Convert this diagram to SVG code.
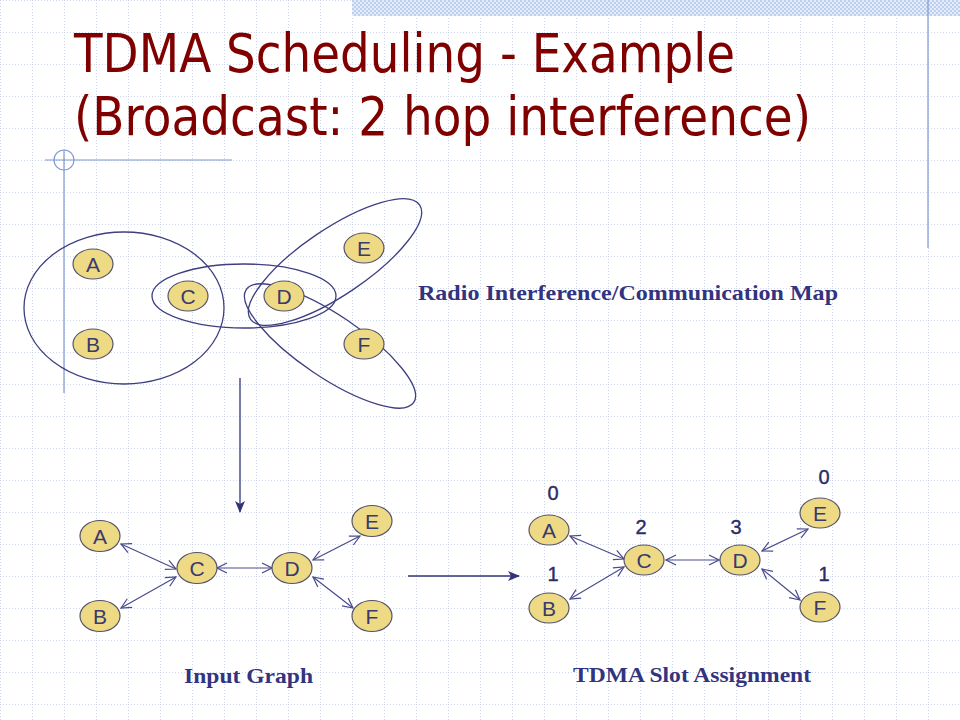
<svg xmlns="http://www.w3.org/2000/svg" width="960" height="720" viewBox="0 0 960 720">
<defs>
<pattern id="grid" x="0" y="0" width="32" height="32" patternUnits="userSpaceOnUse">
<line x1="0.5" y1="0" x2="0.5" y2="32" stroke="#cdd8ee" stroke-width="1" stroke-dasharray="1,2"/>
<line x1="0" y1="0.5" x2="32" y2="0.5" stroke="#cdd8ee" stroke-width="1" stroke-dasharray="1,2"/>
</pattern>
<pattern id="check" x="0" y="0" width="4" height="4" patternUnits="userSpaceOnUse">
<rect width="4" height="4" fill="#e4ecf8"/>
<rect width="2" height="2" fill="#bccfee"/>
<rect x="2" y="2" width="2" height="2" fill="#bccfee"/>
</pattern>
<marker id="open" viewBox="0 0 12 12" refX="11" refY="6" markerWidth="12" markerHeight="12" markerUnits="userSpaceOnUse" orient="auto-start-reverse">
<path d="M1,1 L11,6 L1,11" fill="none" stroke="#4a4a8c" stroke-width="1.2"/>
</marker>
<marker id="solid" viewBox="0 0 12 12" refX="11" refY="6" markerWidth="12" markerHeight="12" markerUnits="userSpaceOnUse" orient="auto">
<path d="M0,1 L12,6 L0,11 L3,6 Z" fill="#33337a"/>
</marker>
<style>
.node ellipse{fill:#eed985;stroke:#55556a;stroke-width:1.2}
.node text{font-family:"Liberation Sans",Arial,sans-serif;font-size:21px;fill:#3a3a6c;text-anchor:middle}
.ring{fill:none;stroke:#3f3f80;stroke-width:1.3}
.edge{stroke:#4a4a8c;stroke-width:1.2;fill:none;marker-start:url(#open);marker-end:url(#open)}
.num{font-family:"Liberation Sans",Arial,sans-serif;font-size:20px;fill:#2d2d66;stroke:#2d2d66;stroke-width:0.4;text-anchor:middle}
.cap{font-family:"Liberation Serif","Times New Roman",serif;font-weight:bold;font-size:21px;fill:#333380}
.deco{stroke:#7f96d2;stroke-width:1.2;fill:none}
</style>
</defs>
<rect width="960" height="720" fill="#ffffff"/>
<rect width="960" height="720" fill="url(#grid)"/>
<rect x="352" y="0" width="608" height="16" fill="url(#check)"/>
<g id="decoration">
<line class="deco" x1="928" y1="0" x2="928" y2="248"/>
<line class="deco" x1="45" y1="160" x2="232" y2="160"/>
<line class="deco" x1="64" y1="150" x2="64" y2="393"/>
<circle class="deco" cx="64" cy="160" r="10"/>
</g>
<g id="title" font-family="'DejaVu Sans',Tahoma,Verdana,sans-serif" font-size="53" fill="#800000">
<text x="74" y="72" textLength="661" lengthAdjust="spacingAndGlyphs">TDMA Scheduling - Example</text>
<text x="74" y="135" textLength="737" lengthAdjust="spacingAndGlyphs">(Broadcast: 2 hop interference)</text>
</g>
<g id="interference-map">
<ellipse class="ring" cx="124" cy="308" rx="100" ry="76"/>
<ellipse class="ring" cx="244" cy="296" rx="92" ry="32"/>
<ellipse class="ring" cx="335" cy="262" rx="102" ry="33" transform="rotate(-34 335 262)"/>
<ellipse class="ring" cx="330" cy="346" rx="101" ry="31" transform="rotate(34 330 346)"/>
</g>
<g id="map-A" class="node"><ellipse cx="93" cy="264" rx="20" ry="15"/><text x="93" y="271.5">A</text></g>
<g id="map-B" class="node"><ellipse cx="93" cy="344" rx="20" ry="15"/><text x="93" y="351.5">B</text></g>
<g id="map-C" class="node"><ellipse cx="188" cy="296" rx="20" ry="15"/><text x="188" y="303.5">C</text></g>
<g id="map-D" class="node"><ellipse cx="284" cy="296" rx="20" ry="15"/><text x="284" y="303.5">D</text></g>
<g id="map-E" class="node"><ellipse cx="364" cy="248" rx="20" ry="15"/><text x="364" y="255.5">E</text></g>
<g id="map-F" class="node"><ellipse cx="364" cy="344" rx="20" ry="15"/><text x="364" y="351.5">F</text></g>
<text class="cap" x="418" y="300" textLength="420" lengthAdjust="spacingAndGlyphs">Radio Interference/Communication Map</text>
<g id="connectors">
<line x1="240" y1="378" x2="240" y2="512" stroke="#33337a" stroke-width="1.3" marker-end="url(#solid)"/>
<line x1="408" y1="576" x2="519" y2="576" stroke="#33337a" stroke-width="1.3" marker-end="url(#solid)"/>
<line class="edge" x1="121" y1="544" x2="176" y2="569"/>
<line class="edge" x1="121" y1="608" x2="176" y2="577"/>
<line class="edge" x1="217" y1="568" x2="272" y2="568"/>
<line class="edge" x1="313" y1="560" x2="360" y2="536"/>
<line class="edge" x1="313" y1="577" x2="353" y2="608"/>
<line class="edge" x1="570" y1="536" x2="624" y2="559"/>
<line class="edge" x1="570" y1="599" x2="624" y2="567"/>
<line class="edge" x1="666" y1="560" x2="719" y2="560"/>
<line class="edge" x1="762" y1="551" x2="808" y2="529"/>
<line class="edge" x1="762" y1="569" x2="800" y2="600"/>
</g>
<g id="in-A" class="node"><ellipse cx="100" cy="536" rx="20" ry="15.5"/><text x="100" y="543.5">A</text></g>
<g id="in-B" class="node"><ellipse cx="100" cy="616" rx="20" ry="15.5"/><text x="100" y="623.5">B</text></g>
<g id="in-C" class="node"><ellipse cx="197" cy="568" rx="20" ry="15.5"/><text x="197" y="575.5">C</text></g>
<g id="in-D" class="node"><ellipse cx="292" cy="568" rx="20" ry="15.5"/><text x="292" y="575.5">D</text></g>
<g id="in-E" class="node"><ellipse cx="372" cy="521" rx="20" ry="15.5"/><text x="372" y="528.5">E</text></g>
<g id="in-F" class="node"><ellipse cx="372" cy="616" rx="20" ry="15.5"/><text x="372" y="623.5">F</text></g>
<text class="cap" x="184" y="683" textLength="129" lengthAdjust="spacingAndGlyphs">Input Graph</text>
<g id="out-A" class="node"><ellipse cx="549" cy="530" rx="20" ry="15"/><text x="549" y="537.5">A</text></g>
<g id="out-B" class="node"><ellipse cx="549" cy="608" rx="20" ry="15"/><text x="549" y="615.5">B</text></g>
<g id="out-C" class="node"><ellipse cx="644" cy="560" rx="20" ry="15"/><text x="644" y="567.5">C</text></g>
<g id="out-D" class="node"><ellipse cx="740" cy="560" rx="20" ry="15"/><text x="740" y="567.5">D</text></g>
<g id="out-E" class="node"><ellipse cx="820" cy="513" rx="20" ry="15"/><text x="820" y="520.5">E</text></g>
<g id="out-F" class="node"><ellipse cx="820" cy="607" rx="20" ry="15"/><text x="820" y="614.5">F</text></g>
<g id="slots">
<text class="num" x="553" y="500">0</text>
<text class="num" x="641" y="534">2</text>
<text class="num" x="736" y="534">3</text>
<text class="num" x="824" y="484">0</text>
<text class="num" x="553" y="581">1</text>
<text class="num" x="824" y="581">1</text>
</g>
<text class="cap" x="573" y="682" textLength="238" lengthAdjust="spacingAndGlyphs">TDMA Slot Assignment</text>
</svg>
